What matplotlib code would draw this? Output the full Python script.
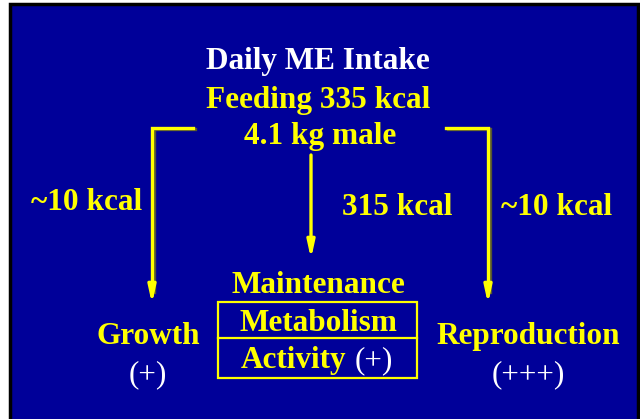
import matplotlib.pyplot as plt
from matplotlib.patches import Rectangle

# Diagram content
title = "Daily ME Intake"
intake_kcal = 335
body_mass_kg = 4.1
maintenance_kcal = 315
growth_kcal = 10
repro_kcal = 10
outputs = ["Growth", "Reproduction"]
output_ratings = ["(+)", "(+++)"]
maintenance_parts = ["Metabolism", "Activity"]
activity_rating = "(+)"

BLUE = "#000099"
YELLOW = "#ffff00"
WHITE = "#ffffff"
FS = 22.5
plt.rcParams['font.family'] = ['Liberation Serif', 'DejaVu Serif']

fig = plt.figure(figsize=(6.4, 4.19), dpi=100)
ax = fig.add_axes([0, 0, 1, 1])
ax.set_xlim(0, 640)
ax.set_ylim(419, 0)
ax.axis('off')

# slide background
ax.add_patch(Rectangle((10, 4), 628, 420, facecolor=BLUE, edgecolor='black', lw=2.5))

big = dict(fontsize=FS, fontweight='bold', ha='center', va='center')

ax.text(318, 62, title, color=WHITE, **big)
ax.text(318, 100, f"Feeding {intake_kcal} kcal", color=YELLOW, **big)
ax.text(320, 136, f"{body_mass_kg} kg male", color=YELLOW, **big)

ax.text(87, 202, f"~{growth_kcal} kcal", color=YELLOW, **big)
ax.text(397, 207, f"{maintenance_kcal} kcal", color=YELLOW, **big)
ax.text(557, 207, f"~{repro_kcal} kcal", color=YELLOW, **big)

# brackets and arrows
lw = 2.4
for xs, ys in [([193, 152, 152], [128, 128, 290]), ([446, 488, 488], [128, 128, 290])]:
    ax.plot([x + 1.5 for x in xs], [y + 1.5 for y in ys], color='#555533', lw=lw,
            solid_joinstyle='miter', zorder=2)
    ax.plot(xs, ys, color=YELLOW, lw=lw, solid_joinstyle='miter', zorder=3)
arrow = dict(arrowstyle='-|>,head_length=1.0,head_width=0.22', color=YELLOW, lw=lw,
             shrinkA=0, shrinkB=0)
ax.annotate("", xy=(152, 304), xytext=(152, 285), arrowprops=arrow, zorder=3)
ax.annotate("", xy=(488, 304), xytext=(488, 285), arrowprops=arrow, zorder=3)
ax.annotate("", xy=(311, 259), xytext=(311, 155), arrowprops=arrow, zorder=3)

# maintenance box
ax.text(318, 285, "Maintenance", color=YELLOW, **big)
ax.add_patch(Rectangle((218, 302), 199, 76, facecolor='none', edgecolor=YELLOW, lw=1.6))
ax.plot([218, 417], [338, 338], color=YELLOW, lw=1.6)
ax.text(318, 323, maintenance_parts[0], color=YELLOW, **big)
ax.text(346, 368, maintenance_parts[1], color=YELLOW, fontsize=FS, fontweight='bold',
        ha='right', va='baseline')
ax.text(355, 368, activity_rating, color=WHITE, fontsize=FS, ha='left', va='baseline')

# outputs
for cx, name, rating in zip([148, 528], outputs, output_ratings):
    ax.text(cx, 336, name, color=YELLOW, **big)
    ax.text(cx, 375, rating, color=WHITE, fontsize=FS, ha='center', va='center')

fig.savefig("out.png", dpi=100, facecolor='white')
